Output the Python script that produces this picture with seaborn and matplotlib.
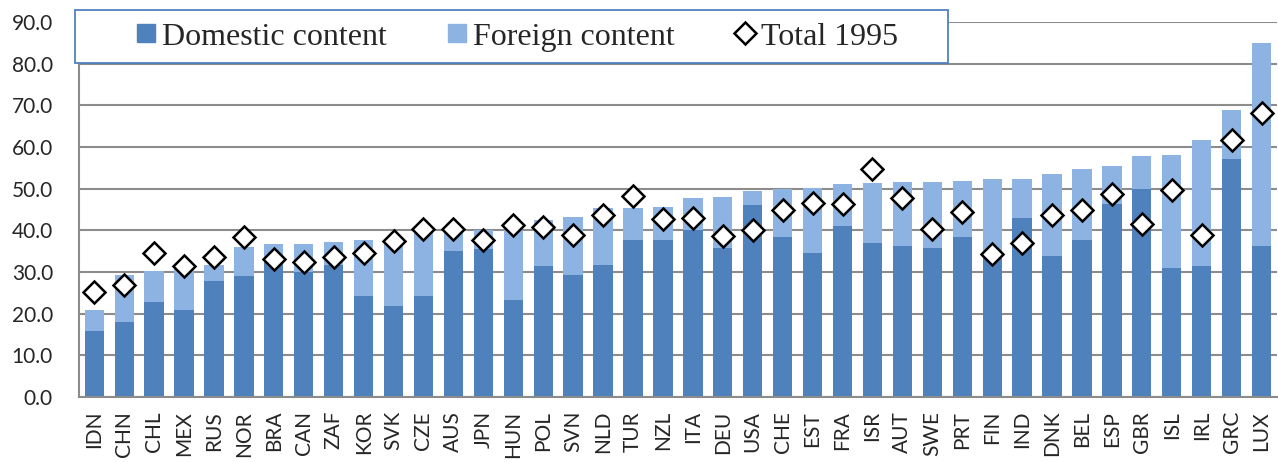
import numpy as np
import pandas as pd
import matplotlib
matplotlib.use("Agg")
import matplotlib.pyplot as plt
from matplotlib.lines import Line2D
from matplotlib.patches import Rectangle
import seaborn as sns

# ------------------------------------------------------------
# Data
# ------------------------------------------------------------
countries = ["IDN", "CHN", "CHL", "MEX", "RUS", "NOR", "BRA", "CAN", "ZAF", "KOR",
             "SVK", "CZE", "AUS", "JPN", "HUN", "POL", "SVN", "NLD", "TUR", "NZL",
             "ITA", "DEU", "USA", "CHE", "EST", "FRA", "ISR", "AUT", "SWE", "PRT",
             "FIN", "IND", "DNK", "BEL", "ESP", "GBR", "ISL", "IRL", "GRC", "LUX"]

domestic = [15.8, 18.0, 22.8, 20.8, 27.8, 29.0, 32.5, 30.0, 31.8, 24.2,
            21.8, 24.2, 35.0, 35.6, 23.4, 31.4, 29.4, 31.8, 37.6, 37.8,
            40.0, 35.8, 46.0, 38.4, 34.6, 41.1, 36.9, 36.2, 35.8, 38.4,
            34.0, 43.0, 33.8, 37.8, 46.2, 50.0, 30.9, 31.4, 57.0, 36.2]

total_2009 = [21.0, 29.4, 30.2, 30.8, 31.6, 35.9, 36.6, 36.6, 37.2, 37.6,
              37.8, 39.4, 40.0, 40.0, 40.0, 42.4, 43.2, 45.4, 45.4, 45.6,
              47.8, 47.9, 49.4, 50.0, 50.2, 51.2, 51.4, 51.5, 51.6, 51.8,
              52.2, 52.4, 53.6, 54.6, 55.4, 57.8, 58.0, 61.8, 68.9, 85.0]

total_1995 = [25.2, 27.0, 34.6, 31.4, 33.6, 38.4, 33.2, 32.3, 33.6, 34.6,
              37.4, 40.2, 40.4, 37.8, 41.4, 40.8, 38.8, 43.6, 48.2, 42.6,
              43.0, 38.6, 40.0, 45.0, 46.6, 46.2, 54.8, 47.8, 40.3, 44.4,
              34.4, 37.0, 43.8, 45.0, 48.8, 41.6, 49.6, 38.8, 61.6, 68.2]

DOM_COLOR = "#4F81BD"
FOR_COLOR = "#8DB3E2"
GRID_COLOR = "#8C8C8C"
W, H = 1278, 462

df = pd.DataFrame({"country": countries, "domestic": domestic,
                   "total": total_2009, "t1995": total_1995})

sns.set_theme(style="white")
plt.rcParams["font.family"] = ["Lato", "DejaVu Sans"]

fig = plt.figure(figsize=(W / 100, H / 100), dpi=100)
ax = fig.add_axes([79.3 / W, 1 - 397 / H, (1276.5 - 79.3) / W, 375 / H])

# total bar (foreign content shows above the domestic part)
sns.barplot(data=df, x="country", y="total", color=FOR_COLOR, saturation=1,
            width=0.645, linewidth=0, ax=ax, zorder=2)
sns.barplot(data=df, x="country", y="domestic", color=DOM_COLOR, saturation=1,
            width=0.645, linewidth=0, ax=ax, zorder=2)

# 1995 totals as diamonds
pos = np.arange(len(df))
ax.plot(pos, df["t1995"], linestyle="none", marker="D", markersize=11,
        markerfacecolor="white", markeredgecolor="black", markeredgewidth=1.8,
        zorder=4)

ax.set_xlim(-0.5, len(df) - 0.5)
ax.set_ylim(0, 90)
ax.set_yticks(np.arange(0, 91, 10))
ax.set_yticklabels([f"{v:.1f}" for v in np.arange(0, 91, 10)], fontsize=15)
ax.tick_params(axis="x", labelrotation=90, labelsize=15, pad=10)
ax.tick_params(axis="y", pad=19)
ax.tick_params(length=0)
ax.set_xlabel("")
ax.set_ylabel("")

ax.yaxis.grid(True, color=GRID_COLOR, linewidth=1.5, zorder=0)
ax.set_axisbelow(True)
for side in ["top", "right"]:
    ax.spines[side].set_visible(False)
for side in ["left", "bottom"]:
    ax.spines[side].set_color(GRID_COLOR)
    ax.spines[side].set_linewidth(1.5)

# legend box across the top left (frame drawn separately)
box = Rectangle((75 / W, 1 - 63 / H), (948 - 75) / W, 53 / H,
                transform=fig.transFigure, facecolor="white",
                edgecolor=DOM_COLOR, linewidth=1.3, zorder=5)
fig.add_artist(box)

handles = [
    Line2D([], [], linestyle="none", marker="s", markersize=12.5,
           markerfacecolor=DOM_COLOR, markeredgecolor=DOM_COLOR),
    Line2D([], [], linestyle="none", marker="s", markersize=12.5,
           markerfacecolor=FOR_COLOR, markeredgecolor=FOR_COLOR),
    Line2D([], [], linestyle="none", marker="D", markersize=11,
           markerfacecolor="white", markeredgecolor="black", markeredgewidth=1.8),
]
labels = ["Domestic content", "Foreign content", "Total 1995"]
leg = fig.legend(handles, labels, ncol=3, loc="center left",
                 bbox_to_anchor=(136 / W, 1 - 37 / H),
                 prop={"family": "Liberation Serif", "size": 23},
                 frameon=False, borderpad=0, borderaxespad=0,
                 handletextpad=0.2, columnspacing=1.9, handlelength=0.6)
leg.set_zorder(6)

plt.savefig("out.png", dpi=100)
